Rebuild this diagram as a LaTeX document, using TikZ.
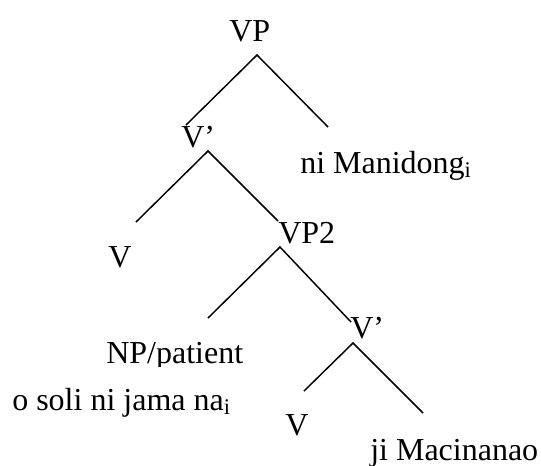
\documentclass[tikz,border=0pt]{standalone}
\usepackage{fontspec}
\setmainfont{Liberation Serif}
\begin{document}
\begin{tikzpicture}[x=0.75pt,y=-0.75pt,
  lbl/.style={inner sep=0pt,anchor=base west,font=\fontsize{24}{28}\selectfont},
  branch/.style={line width=1.1pt}]
\useasboundingbox (0,0) rectangle (541,465);

% category labels
\node[lbl] (vp)    at (229,41)  {VP};
\node[lbl] (vbar1) at (181,147) {V’};
\node[lbl] (v1)    at (108,267) {V};
\node[lbl] (vp2)   at (278,243) {VP2};
\node[lbl] (vbar2) at (350,338) {V’};
\node[lbl] (v2)    at (285,435) {V};
\begin{scope}
  \clip (0,0) rectangle (541,366);
  \node[lbl] (np) at (106,363) {NP/patient};
\end{scope}

% lexical material
\node[lbl] (obl) at (300,173) {ni Manidong\textsubscript{i}};
\node[lbl] (obj) at (12,410)  {o soli ni jama na\textsubscript{i}};
\node[lbl] (ag)  at (370,460) {ji Macinanao};

% branch points and branch ends
\coordinate (a1) at (257,55);  \coordinate (l1) at (186,125); \coordinate (r1) at (328,127);
\coordinate (a2) at (208,151); \coordinate (l2) at (136,222); \coordinate (r2) at (278,221);
\coordinate (a3) at (280,247); \coordinate (l3) at (208,318); \coordinate (r3) at (351,322);
\coordinate (a4) at (353,343); \coordinate (l4) at (304,391); \coordinate (r4) at (423,413);

\draw[branch] (l1) -- (a1) -- (r1);
\draw[branch] (l2) -- (a2) -- (r2);
\draw[branch] (l3) -- (a3) -- (r3);
\draw[branch] (l4) -- (a4) -- (r4);
\end{tikzpicture}
\end{document}
